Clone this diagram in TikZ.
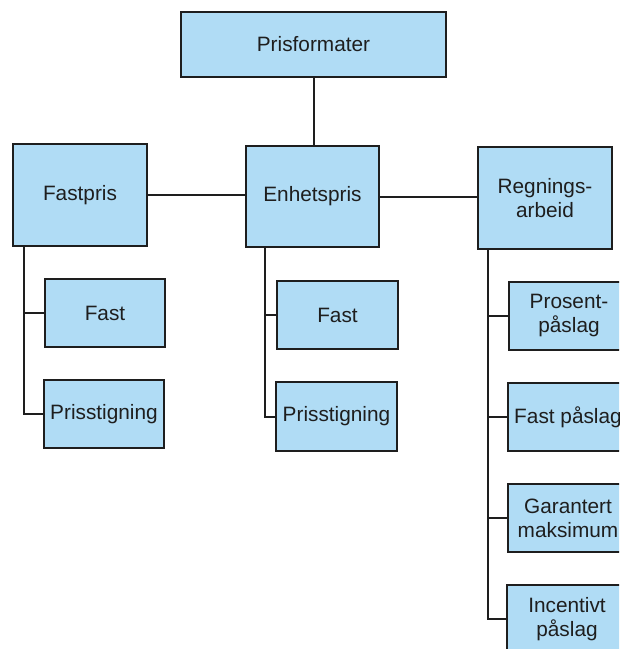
\documentclass[tikz,border=0pt]{standalone}
\usepackage{fontspec}
\setmainfont{Liberation Sans}
\definecolor{boxfill}{RGB}{176,220,245}
\definecolor{ink}{RGB}{30,30,30}
\begin{document}
\begin{tikzpicture}[x=0.75pt,y=-0.75pt,
  box/.style={draw=ink,fill=boxfill,line width=1.5pt,rectangle,inner sep=0pt,
    align=center,text=ink,font=\fontsize{15.6}{18}\selectfont},
  conn/.style={draw=ink,line width=1.5pt}]
\useasboundingbox (0,0) rectangle (619,649);
\clip (0,0) rectangle (619,649);
\node[box,minimum width=198.75pt,minimum height=48.75pt] (pf) at (313.5,44.5) {Prisformater};
\node[box,minimum width=100.5pt,minimum height=76.5pt] (fp) at (80,195) {Fastpris};
\node[box,minimum width=99.75pt,minimum height=75.75pt] (ep) at (312.5,196.5) {Enhetspris};
\node[box,minimum width=100.5pt,minimum height=76.5pt] (ra) at (545,198) {Regnings-\\arbeid};
\node[box,minimum width=90pt,minimum height=51pt] (fl) at (105,313) {Fast};
\node[box,minimum width=90pt,minimum height=51pt] (pl) at (104,414) {Prisstigning};
\node[box,minimum width=90.75pt,minimum height=51pt] (fm) at (337.5,315) {Fast};
\node[box,minimum width=90.75pt,minimum height=51.75pt] (pm) at (336.5,416.5) {Prisstigning};
\node[box,minimum width=90pt,minimum height=51pt] (r1) at (569,316) {Prosent-\\påslag};
\node[box,minimum width=90pt,minimum height=51pt] (r2) at (568,417) {Fast påslag};
\node[box,minimum width=90pt,minimum height=51pt] (r3) at (568,518) {Garantert\\maksimum};
\node[box,minimum width=90pt,minimum height=51pt] (r4) at (567,619) {Incentivt\\påslag};
\draw[conn] (pf.south) -- (pf.south |- ep.north);
\draw[conn] (fp.east) -- (fp.east -| ep.west);
\draw[conn] (ep.east) -- (ep.east -| ra.west);
\draw[conn] ([xshift=9pt]fp.south west) |- (fl.west);
\draw[conn] ([xshift=9pt]fp.south west) |- (pl.west);
\draw[conn] ([xshift=15pt]ep.south west) |- (fm.west);
\draw[conn] ([xshift=15pt]ep.south west) |- (pm.west);
\draw[conn] ([xshift=8.25pt]ra.south west) |- (r1.west);
\draw[conn] ([xshift=8.25pt]ra.south west) |- (r2.west);
\draw[conn] ([xshift=8.25pt]ra.south west) |- (r3.west);
\draw[conn] ([xshift=8.25pt]ra.south west) |- (r4.west);
\end{tikzpicture}
\end{document}
